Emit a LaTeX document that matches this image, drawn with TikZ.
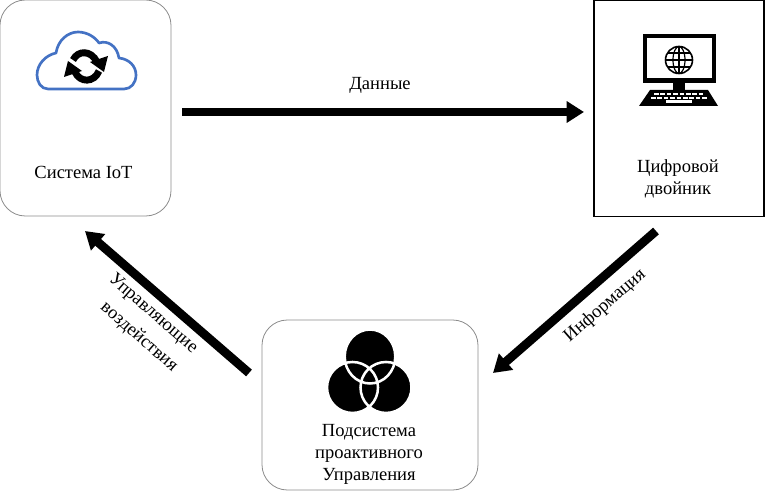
\documentclass[tikz,border=0pt]{standalone}
\usepackage{fontspec}
\setmainfont{Liberation Serif}
\usetikzlibrary{arrows.meta}
\definecolor{cloudblue}{RGB}{68,114,196}
\tikzset{
  softbox/.style={draw=black!45,line width=0.6pt,rounded corners=19pt,minimum width=128.25pt,minimum height=162pt,inner sep=0pt},
  twinbox/.style={draw=black,line width=0.9pt,minimum width=127.5pt,minimum height=162pt,inner sep=0pt},
  lbl/.style={font=\fontsize{13.9}{16.5}\selectfont,align=center,inner sep=0pt},
  flow/.style={line width=6.6pt,-{Triangle[length=13pt,width=15.5pt]}}
}
\begin{document}
\begin{tikzpicture}[x=0.75pt,y=-0.75pt]
\useasboundingbox (0,0) rectangle (765,491);
\fill[white] (0,0) rectangle (765,491);
% boxes
\node[softbox] (iot) at (85.5,108) {};
\node[twinbox] (twin) at (679,108.5) {};
\node[softbox,minimum width=162pt,minimum height=127.5pt] (ctl) at (370,405) {};
% cloud
\draw[cloudblue,line width=2pt,line join=round]
  (48,89) .. controls (41,89) and (37,82) .. (37,75)
  .. controls (37,64) and (46,55) .. (56,53)
  .. controls (58,40) and (68,32) .. (78,32)
  .. controls (87,32) and (95,37) .. (99,43)
  .. controls (108,40) and (117,46) .. (119,58)
  .. controls (129,59) and (136,66) .. (136,75)
  .. controls (136,83) and (131,89) .. (124,89) -- cycle;
% sync arrows
\draw[line width=5.2pt] (73,60) .. controls (78,50) and (91,50) .. (97,62);
\draw[line width=5.2pt] (99,71) .. controls (94,83) and (80,83) .. (75,72);
\fill (108,56) -- (104,72) -- (90,62) -- cycle;
\fill (64,77) -- (68,61) -- (82,71) -- cycle;
% computer
\draw[line width=3.4pt] (645,36) rectangle (714,80.5);
\fill (673,82) rectangle (685,90);
\fill (650,90) -- (708,90) -- (718,106) -- (639,106) -- cycle;
\foreach \yy/\xa/\xb in {94/654/704, 98/651/707}
  \draw[white,line width=1.5pt,dash pattern=on 3.5pt off 1.3pt] (\xa,\yy) -- (\xb,\yy);
\fill[white] (666,100.5) rectangle (692,103);
\draw[line width=1.2pt] (679,60) circle[radius=13.5];
\draw[line width=0.9pt] (679,60) ellipse[x radius=6,y radius=13.5];
\draw[line width=0.9pt] (679,46.5) -- (679,73.5) (665.5,60) -- (692.5,60) (667.5,53) -- (690.5,53) (667.5,67) -- (690.5,67);
% venn
\fill (370,356.5) ellipse[x radius=25,y radius=26.7] (352.5,387.5) circle[radius=25.5] (386,387.5) circle[radius=25.5];
\draw[white,line width=1.9pt] (370,356.5) ellipse[x radius=25.3,y radius=27] (352.5,387.5) circle[radius=25.5] (386,387.5) circle[radius=25.5];
% labels
\node[lbl] (tdata) at (380,85) {Данные};
\node[lbl] (tiot) at (83.5,172) {Система IoT};
\node[lbl] (ttwin) at (678,179) {Цифровой\\двойник};
\node[lbl] (tctl) at (369,454) {Подсистема\\проактивного\\Управления};
\node[lbl,rotate=-41] (tupr) at (153,314) {Управляющие};
\node[lbl,rotate=-41] (tvoz) at (139,337) {воздействия};
\node[lbl,rotate=41] (tinf) at (605,306) {Информация};
% connectors
\coordinate (a1) at (182,112);
\coordinate (a2) at (584,112);
\coordinate (b1) at (656,231);
\coordinate (b2) at (493,373);
\coordinate (c1) at (249,373);
\coordinate (c2) at (85,231);
\draw[flow] (a1) -- (a2);
\draw[flow] (b1) -- (b2);
\draw[flow] (c1) -- (c2);
\end{tikzpicture}
\end{document}
